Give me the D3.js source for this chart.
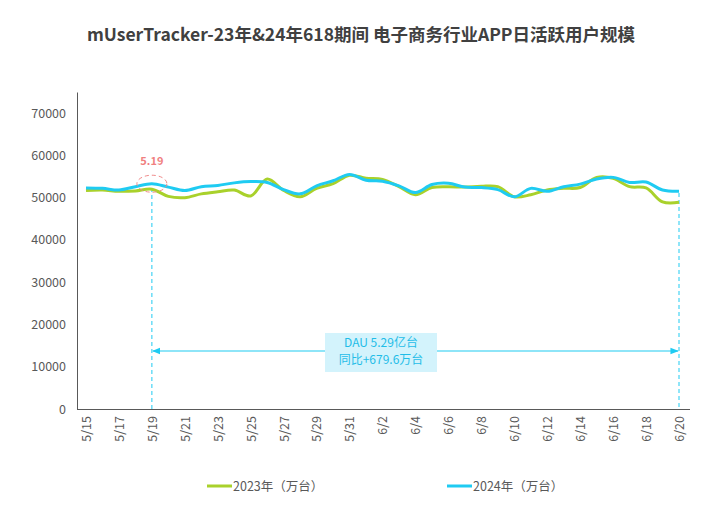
<!DOCTYPE html>
<html><head><meta charset="utf-8">
<script src="https://cdn.jsdelivr.net/npm/d3@7"></script>
<style>
body{margin:0;background:#fff;}
text{font-family:"Noto Sans CJK SC","Noto Sans",sans-serif;}
</style></head>
<body><svg id="c" width="711" height="514"></svg>
<script>
const dates = ["5/15","5/16","5/17","5/18","5/19","5/20","5/21","5/22","5/23","5/24","5/25","5/26","5/27","5/28","5/29","5/30","5/31","6/1","6/2","6/3","6/4","6/5","6/6","6/7","6/8","6/9","6/10","6/11","6/12","6/13","6/14","6/15","6/16","6/17","6/18","6/19","6/20"];
const tickLabels = ["5/15","5/17","5/19","5/21","5/23","5/25","5/27","5/29","5/31","6/2","6/4","6/6","6/8","6/10","6/12","6/14","6/16","6/18","6/20"];
const values2023 = [51700,51800,51500,51600,52000,50300,50000,50900,51400,51800,50400,54400,51700,50200,52200,53300,55300,54600,54300,52600,50700,52400,52600,52500,52700,52600,50200,50700,51800,52200,52400,54800,54600,52600,52300,49000,48900];
const values2024 = [52300,52200,51800,52600,53300,52500,51700,52600,52900,53500,53800,53600,51900,50900,52800,54000,55500,54100,53900,52800,51200,53100,53400,52500,52400,51900,50200,52200,51500,52600,53200,54400,54800,53600,53700,51800,51500];
const yTicks = [0,10000,20000,30000,40000,50000,60000,70000];
const seriesNames = ["2023年（万台）","2024年（万台）"];
const title = "mUserTracker-23年&24年618期间 电子商务行业APP日活跃用户规模";
const annoDate = "5/19", endDate = "6/20";
const annoLabel = "5.19";
const annoText = ["DAU 5.29亿台","同比+679.6万台"];

const svg = d3.select("#c");
const green = "#a9d12b", blue = "#1fcbf2";
const x = d3.scalePoint().domain(dates).range([86, 679]);
const y = d3.scaleLinear().domain([0, 75000]).range([409, 92]);

svg.append("text").attr("x", 361).attr("y", 41).attr("text-anchor","middle")
  .attr("font-size", 17.5).attr("font-weight","bold").attr("fill","#404040").text(title);

// y axis
const ya = svg.append("g").attr("transform","translate(77,0)")
  .call(d3.axisLeft(y).tickValues(yTicks).tickSize(0).tickPadding(11).tickFormat(d3.format("d")));
ya.select(".domain").attr("stroke","#595959");
ya.selectAll("text").attr("font-size",12.5).attr("fill","#595959")
  .style("font-family","'Noto Sans CJK SC',sans-serif");

// x axis
const xa = svg.append("g").attr("transform","translate(0,409)")
  .call(d3.axisBottom(x).tickValues(tickLabels).tickSize(0).tickPadding(0));
xa.select(".domain").attr("d","M77,0.5H690").attr("stroke","#595959");
xa.selectAll("text").attr("font-size",12.5).attr("fill","#595959")
  .attr("transform","rotate(-90)").attr("text-anchor","end")
  .attr("x",-7).attr("y",0).attr("dy","0.35em")
  .style("font-family","'Noto Sans CJK SC',sans-serif");

// dashed verticals
[annoDate, endDate].forEach(d=>{
  svg.append("line").attr("x1",x(d)).attr("x2",x(d))
    .attr("y1", d===annoDate?188:193).attr("y2",409)
    .attr("stroke","#1fcbf2").attr("stroke-width",1).attr("stroke-dasharray","4,3");
});

const line = d3.line().x((d,i)=>x(dates[i])).y(d=>y(d)).curve(d3.curveCatmullRom.alpha(0.5));
svg.append("path").datum(values2023).attr("d",line).attr("fill","none")
  .attr("stroke",green).attr("stroke-width",3);
svg.append("path").datum(values2024).attr("d",line).attr("fill","none")
  .attr("stroke",blue).attr("stroke-width",3);

// annotation ellipse
const ai = dates.indexOf(annoDate);
svg.append("ellipse").attr("cx",x(annoDate)).attr("cy",y(values2024[ai])).attr("rx",15).attr("ry",8.5)
  .attr("fill","none").attr("stroke","#f08a8a").attr("stroke-width",1).attr("stroke-dasharray","4,3");
svg.append("text").attr("x",x(annoDate)).attr("y",165).attr("text-anchor","middle")
  .attr("font-size",11).attr("font-weight","bold").attr("fill","#f08080").text(annoLabel);

// double arrow
const defs = svg.append("defs");
defs.append("marker").attr("id","ae").attr("viewBox","0 0 10 10").attr("refX",9).attr("refY",5)
  .attr("markerWidth",7).attr("markerHeight",7).attr("orient","auto-start-reverse")
  .append("path").attr("d","M0,1L10,5L0,9Z").attr("fill",blue);
svg.append("line").attr("x1",x(annoDate)+1).attr("x2",x(endDate)-1).attr("y1",351).attr("y2",351)
  .attr("stroke",blue).attr("stroke-width",1.2)
  .attr("marker-start","url(#ae)").attr("marker-end","url(#ae)");
svg.append("rect").attr("x",325).attr("y",333).attr("width",112).attr("height",39).attr("fill","#d3f3fc");
annoText.forEach((t,i)=>{
  svg.append("text").attr("x",381).attr("y",347+i*17).attr("text-anchor","middle")
    .attr("font-size",12).attr("fill","#1fbde8").text(t);
});

// legend
[[207,green,seriesNames[0]],[447,blue,seriesNames[1]]].forEach(([lx,c,t])=>{
  svg.append("line").attr("x1",lx).attr("x2",lx+25).attr("y1",486).attr("y2",486)
    .attr("stroke",c).attr("stroke-width",3);
  svg.append("text").attr("x",lx+26).attr("y",490.5).attr("font-size",12.5).attr("fill","#595959").text(t);
});
</script></body></html>
